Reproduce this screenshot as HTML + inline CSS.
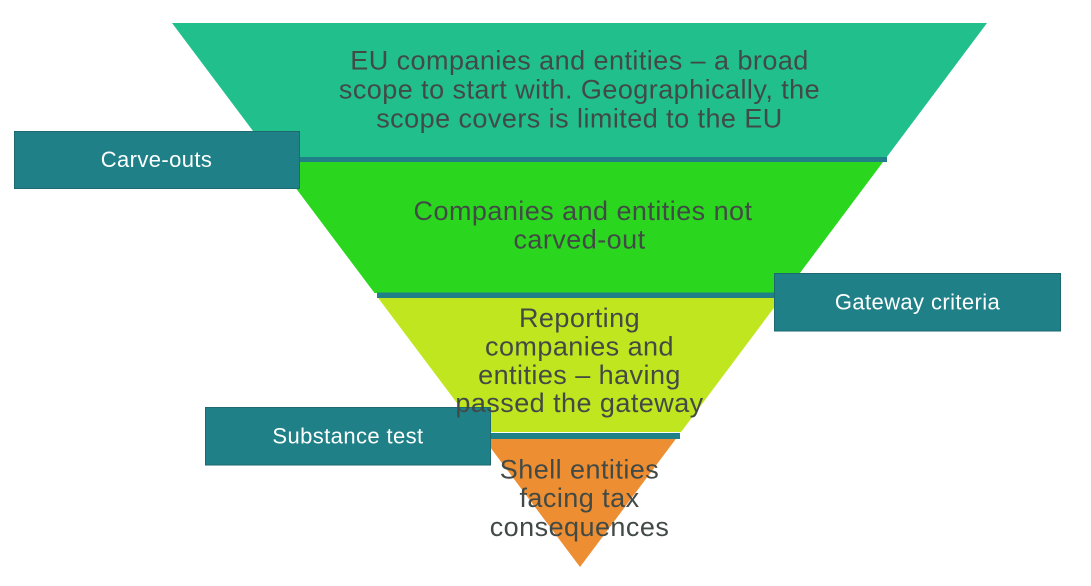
<!DOCTYPE html>
<html>
<head>
<meta charset="utf-8">
<style>
  html, body { margin: 0; padding: 0; background: #ffffff; }
  body { width: 1091px; height: 586px; overflow: hidden; }
  svg { display: block; }
  .band { font-family: "Liberation Sans", Arial, sans-serif; font-size: 27px; fill: #424a46; letter-spacing: 0.45px; }
  .box { font-family: "Liberation Sans", Arial, sans-serif; font-size: 22px; fill: #ffffff; letter-spacing: 0.4px; }
</style>
</head>
<body>
<svg width="1091" height="586" viewBox="0 0 1091 586" xmlns="http://www.w3.org/2000/svg">
  <rect x="0" y="0" width="1091" height="586" fill="#ffffff"/>

  <!-- Band 1 -->
  <polygon points="172,23 987,23 886.8,157 272.5,157" fill="#21bf8c"/>
  <!-- Separator 1 -->
  <rect x="272" y="157" width="615" height="5" fill="#1f8087"/>

  <!-- Band 2 -->
  <polygon points="276.2,162 883,162 785,293 374.5,293" fill="#2bd61f"/>
  <!-- Separator 2 -->
  <rect x="377" y="292.5" width="408" height="5.5" fill="#1f8087"/>

  <!-- Band 3 -->
  <polygon points="378.2,298 781.3,298 681.1,432 478.7,432" fill="#bfe61f"/>
  <!-- Separator 3 -->
  <rect x="481" y="433" width="199" height="6" fill="#1f8087"/>

  <!-- Band 4 -->
  <polygon points="484,439 675.8,439 580,567" fill="#ee8e32"/>

  <!-- Boxes -->
  <rect x="14.5" y="131.5" width="285" height="57" fill="#1f8087" stroke="#1a6a70" stroke-width="1"/>
  <text class="box" x="156.5" y="167" text-anchor="middle">Carve-outs</text>

  <rect x="774.5" y="273.5" width="286" height="57.5" fill="#1f8087" stroke="#1a6a70" stroke-width="1"/>
  <text class="box" x="917.5" y="309.5" text-anchor="middle">Gateway criteria</text>

  <rect x="205.5" y="407.5" width="285" height="57.5" fill="#1f8087" stroke="#1a6a70" stroke-width="1"/>
  <text class="box" x="348" y="443.5" text-anchor="middle">Substance test</text>

  <!-- Band texts -->
  <text class="band" x="579.5" y="69.5" text-anchor="middle">EU companies and entities – a broad</text>
  <text class="band" x="579.5" y="98.5" text-anchor="middle">scope to start with. Geographically, the</text>
  <text class="band" x="579.5" y="127.5" text-anchor="middle">scope covers is limited to the EU</text>

  <text class="band" x="583" y="220" text-anchor="middle">Companies and entities not</text>
  <text class="band" x="579.5" y="248.5" text-anchor="middle">carved-out</text>

  <text class="band" x="579.5" y="327" text-anchor="middle">Reporting</text>
  <text class="band" x="579.5" y="355.5" text-anchor="middle">companies and</text>
  <text class="band" x="579.5" y="384" text-anchor="middle">entities – having</text>
  <text class="band" x="579.5" y="412" text-anchor="middle">passed the gateway</text>

  <text class="band" x="579.5" y="478.5" text-anchor="middle">Shell entities</text>
  <text class="band" x="579.5" y="507" text-anchor="middle">facing tax</text>
  <text class="band" x="579.5" y="536" text-anchor="middle">consequences</text>
</svg>
</body>
</html>
